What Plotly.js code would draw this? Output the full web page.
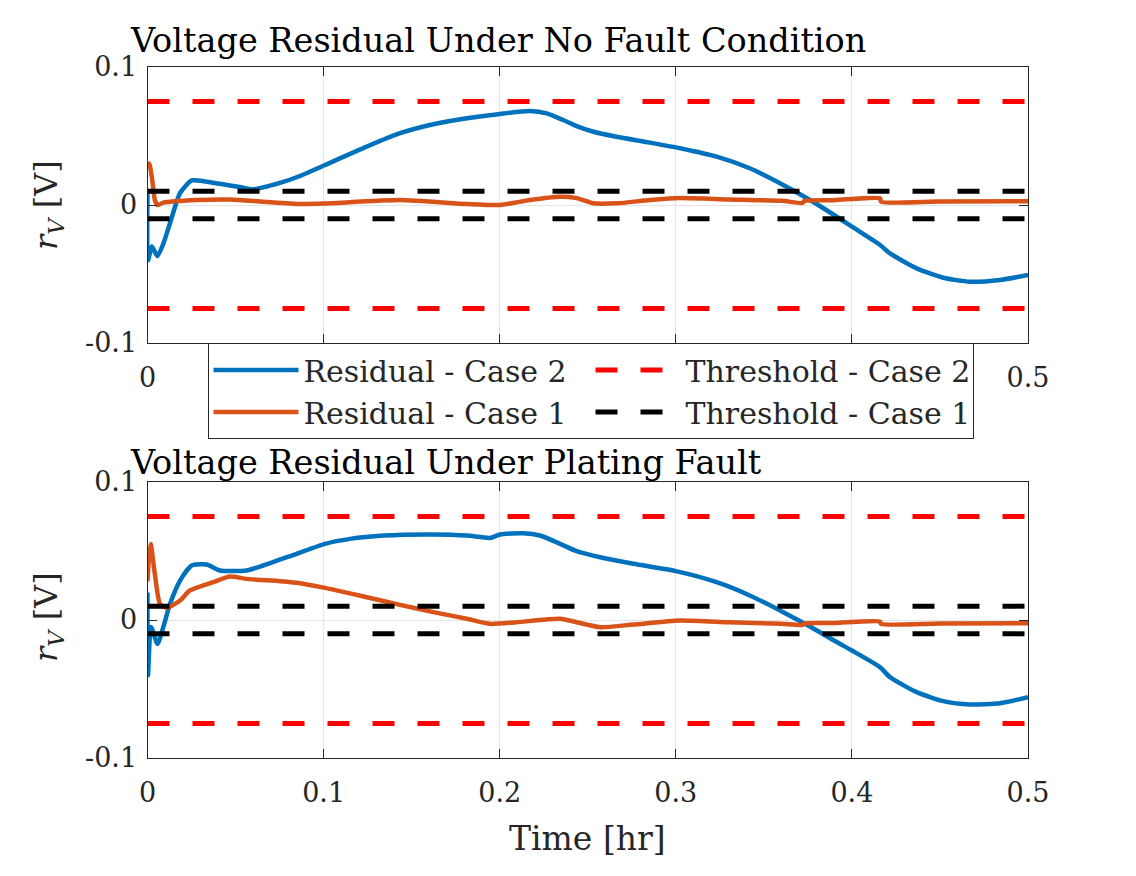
<!DOCTYPE html>
<html>
<head>
<meta charset="utf-8">
<script src="https://cdn.plot.ly/plotly-3.0.1.min.js"></script>
<style>html,body{margin:0;padding:0;background:#fff;}#chart{width:1136px;height:876px;}</style>
</head>
<body>
<div id="chart"></div>
<script>
// ---- Data ----
// Top panel: no fault
const tNoFaultCase2 = [0, 0.0003, 0.0025, 0.0056, 0.009, 0.0128, 0.0185, 0.0251, 0.0336, 0.045, 0.0525, 0.06, 0.0752, 0.0866, 0.1008, 0.1245, 0.1434, 0.1623, 0.1813, 0.2002, 0.2172, 0.2267, 0.236, 0.2437, 0.2532, 0.2664, 0.2853, 0.3024, 0.3232, 0.342, 0.361, 0.3762, 0.3914, 0.4, 0.416, 0.4216, 0.4368, 0.4519, 0.467, 0.4841, 0.5];
const vNoFaultCase2 = [0.01, -0.04, -0.03, -0.037, -0.028, -0.013, 0.0087, 0.0178, 0.0169, 0.0145, 0.013, 0.0114, 0.016, 0.021, 0.029, 0.0423, 0.052, 0.0585, 0.0628, 0.066, 0.0681, 0.0664, 0.0616, 0.0572, 0.0531, 0.0495, 0.0452, 0.0411, 0.035, 0.0266, 0.0145, 0.0036, -0.0085, -0.0157, -0.029, -0.035, -0.0459, -0.0527, -0.0556, -0.0543, -0.0507];
const tNoFaultCase1 = [0, 0.001, 0.0025, 0.0043, 0.006, 0.009, 0.0279, 0.0468, 0.0658, 0.0866, 0.1, 0.1434, 0.1813, 0.2002, 0.2172, 0.2342, 0.2437, 0.2532, 0.2664, 0.2853, 0.3024, 0.33, 0.36, 0.372, 0.373, 0.39, 0.416, 0.4165, 0.45, 0.5];
const vNoFaultCase1 = [0.026, 0.03, 0.02, 0.003, 0.0, 0.0017, 0.0036, 0.004, 0.0024, 0.0007, 0.001, 0.0036, 0.0007, 0.0, 0.0036, 0.006, 0.005, 0.0012, 0.0012, 0.0036, 0.005, 0.004, 0.003, 0.0015, 0.003, 0.0035, 0.0048, 0.0024, 0.0025, 0.0027];
// Bottom panel: plating fault
const tPlatingCase2 = [0, 0.0003, 0.002, 0.0057, 0.009, 0.0128, 0.0185, 0.0251, 0.0336, 0.0412, 0.0563, 0.0658, 0.0847, 0.1008, 0.115, 0.134, 0.1623, 0.1813, 0.1945, 0.2002, 0.2134, 0.2229, 0.2342, 0.2437, 0.257, 0.2759, 0.3, 0.3232, 0.342, 0.361, 0.3762, 0.3914, 0.4, 0.416, 0.4216, 0.4368, 0.4519, 0.467, 0.4841, 0.5];
const vPlatingCase2 = [0.02, -0.04, -0.005, -0.0173, -0.005, 0.0117, 0.0286, 0.0395, 0.0402, 0.0359, 0.0359, 0.0395, 0.048, 0.0552, 0.0588, 0.0612, 0.062, 0.0612, 0.0595, 0.062, 0.0629, 0.0612, 0.0552, 0.0499, 0.0455, 0.0407, 0.0354, 0.0274, 0.0178, 0.0057, -0.0047, -0.016, -0.0221, -0.0342, -0.0414, -0.0523, -0.0588, -0.0612, -0.0603, -0.0559];
const tPlatingCase1 = [0, 0.0008, 0.0018, 0.004, 0.0071, 0.0109, 0.0185, 0.0241, 0.0374, 0.0468, 0.0563, 0.0752, 0.0866, 0.1008, 0.1245, 0.1434, 0.1623, 0.1813, 0.1945, 0.2096, 0.2342, 0.2437, 0.257, 0.2759, 0.3024, 0.33, 0.36, 0.372, 0.373, 0.39, 0.416, 0.4165, 0.45, 0.5];
const vPlatingCase1 = [0.028, 0.045, 0.055, 0.035, 0.0117, 0.0088, 0.0141, 0.0214, 0.0274, 0.0315, 0.0298, 0.0281, 0.0267, 0.0233, 0.0165, 0.011, 0.0057, 0.0009, -0.0028, -0.0016, 0.0009, -0.0016, -0.0052, -0.0033, -0.0004, -0.0016, -0.0028, -0.0035, -0.0025, -0.0022, -0.0011, -0.0028, -0.0025, -0.0023];
// Thresholds
const thresholdCase2 = 0.075;
const thresholdCase1 = 0.01;
const timeRange = [0, 0.5];
const xTickVals = [0, 0.1, 0.2, 0.3, 0.4, 0.5];
const xTickText = ['0', '0.1', '0.2', '0.3', '0.4', '0.5'];
const xTickTextTop = ['0', '', '', '', '', '0.5'];   // middle labels hidden behind the legend in the reference
const yTickVals = [-0.1, 0, 0.1];
const yTickText = ['-0.1', '0', '0.1'];
const seriesNames = ['Residual - Case 2', 'Residual - Case 1', 'Threshold - Case 2', 'Threshold - Case 1'];
const panelTitles = ['Voltage Residual Under No Fault Condition', 'Voltage Residual Under Plating Fault'];

// ---- Styles ----
const C_BLUE = '#0072BD', C_ORANGE = '#D95319', C_RED = '#FF0000', C_BLACK = '#000000';
const FONT = 'DejaVu Serif';
const DASH = '22px,23px';

function thrX(){ return [timeRange[0], timeRange[1], null, timeRange[0], timeRange[1]]; }
function thrY(v){ return [v, v, null, -v, -v]; }

const traces = [];
function panel(xa, ya, tb, vb, to, vo, showLeg){
  traces.push({x: tb, y: vb, xaxis: xa, yaxis: ya, mode: 'lines', name: seriesNames[0],
    line: {color: C_BLUE, width: 4.5, shape: 'spline', smoothing: 0.6}, showlegend: showLeg, legendrank: 1});
  traces.push({x: to, y: vo, xaxis: xa, yaxis: ya, mode: 'lines', name: seriesNames[1],
    line: {color: C_ORANGE, width: 4.5, shape: 'spline', smoothing: 0.6}, showlegend: showLeg, legendrank: 3});
  traces.push({x: thrX(), y: thrY(thresholdCase2), xaxis: xa, yaxis: ya, mode: 'lines', name: seriesNames[2],
    line: {color: C_RED, width: 5, dash: DASH}, showlegend: showLeg, legendrank: 2, connectgaps: false});
  traces.push({x: thrX(), y: thrY(thresholdCase1), xaxis: xa, yaxis: ya, mode: 'lines', name: seriesNames[3],
    line: {color: C_BLACK, width: 5, dash: DASH}, showlegend: showLeg, legendrank: 4, connectgaps: false});
}
panel('x', 'y', tNoFaultCase2, vNoFaultCase2, tNoFaultCase1, vNoFaultCase1, true);
panel('x2', 'y2', tPlatingCase2, vPlatingCase2, tPlatingCase1, vPlatingCase1, false);

const W = 1136, H = 876, ML = 100, MR = 100;
const PW = W - ML - MR;
const px = v => (v - ML) / PW, py = v => 1 - v / H;

function xaxisCfg(anchor, ticktext){
  return {domain: [px(147.5), px(1028)], range: timeRange, anchor: anchor,
    tickvals: xTickVals, ticktext: ticktext, ticks: 'inside', ticklen: 9, tickcolor: '#262626',
    showline: true, linecolor: '#262626', linewidth: 1, mirror: 'ticks', ticklabelstandoff: 11,
    showgrid: true, gridcolor: '#E5E5E5', gridwidth: 1, zeroline: false,
    tickfont: {family: FONT, size: 27, color: '#262626'}, fixedrange: true};
}
function yaxisCfg(anchor, d){
  return {domain: d, range: [-0.1, 0.1], anchor: anchor,
    tickvals: yTickVals, ticktext: yTickText, ticks: 'inside', ticklen: 9, tickcolor: '#262626',
    showline: true, linecolor: '#262626', linewidth: 1, mirror: 'ticks', ticklabelstandoff: 4,
    showgrid: true, gridcolor: '#E5E5E5', gridwidth: 1, zeroline: false,
    tickfont: {family: FONT, size: 27, color: '#262626'}, fixedrange: true};
}

const ylab = '<i>r</i><sub><i>V</i></sub> [V]';
const layout = {
  width: W, height: H,
  margin: {l: ML, r: MR, t: 0, b: 0},
  paper_bgcolor: '#ffffff', plot_bgcolor: '#ffffff',
  font: {family: FONT, color: '#262626'},
  xaxis: xaxisCfg('y', xTickTextTop),
  yaxis: yaxisCfg('x', [py(343), py(67)]),
  xaxis2: xaxisCfg('y2', xTickText),
  yaxis2: yaxisCfg('x2', [py(758), py(482)]),
  showlegend: true,
  legend: {orientation: 'h', x: px(590.5), xanchor: 'center', y: py(343), yanchor: 'top',
    bgcolor: '#ffffff', bordercolor: '#262626', borderwidth: 1,
    font: {family: FONT, size: 30, color: '#262626'}, itemwidth: 85,
    entrywidth: 282, entrywidthmode: 'pixels', tracegroupgap: 0, itemclick: false, itemdoubleclick: false},
  annotations: [
    {text: panelTitles[0], xref: 'paper', yref: 'paper', x: px(128), y: py(40), xanchor: 'left', yanchor: 'middle',
      showarrow: false, font: {family: FONT, size: 33.5, color: '#000000'}},
    {text: panelTitles[1], xref: 'paper', yref: 'paper', x: px(128), y: py(462), xanchor: 'left', yanchor: 'middle',
      showarrow: false, font: {family: FONT, size: 33.5, color: '#000000'}},
    {text: ylab, xref: 'paper', yref: 'paper', x: px(48), y: py(205), xanchor: 'center', yanchor: 'middle',
      textangle: -90, showarrow: false, font: {family: FONT, size: 32, color: '#262626'}},
    {text: ylab, xref: 'paper', yref: 'paper', x: px(48), y: py(617), xanchor: 'center', yanchor: 'middle',
      textangle: -90, showarrow: false, font: {family: FONT, size: 32, color: '#262626'}},
    {text: 'Time [hr]', xref: 'paper', yref: 'paper', x: px(587), y: py(838), xanchor: 'center', yanchor: 'middle',
      showarrow: false, font: {family: FONT, size: 33, color: '#262626'}}
  ]
};

Plotly.newPlot('chart', traces, layout, {staticPlot: true, displayModeBar: false});
</script>
</body>
</html>
